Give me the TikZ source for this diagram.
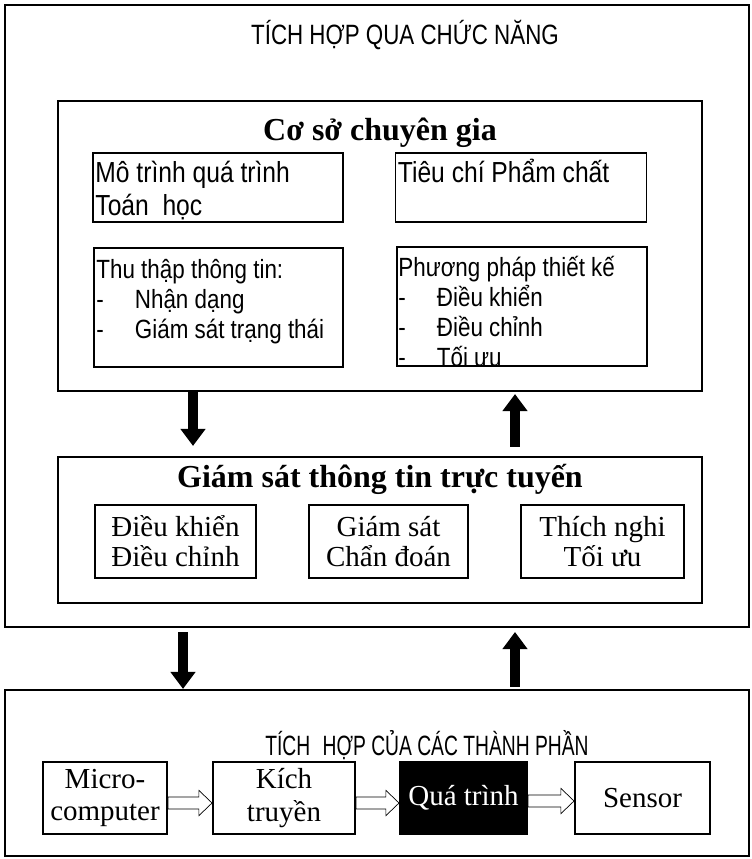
\documentclass[tikz,border=0pt]{standalone}
\usepackage{fontspec}
\setmainfont{Liberation Serif}
\newfontfamily\tieude[FakeStretch=0.8]{Liberation Sans}
\newfontfamily\tieudehep[FakeStretch=0.69]{Liberation Sans}
\newfontfamily\chunho[FakeStretch=0.85]{Liberation Sans}
\usetikzlibrary{arrows.meta,calc}

\tikzset{
    khung/.style={draw, line width=1.2pt, inner sep=0pt},
    o/.style={draw, line width=1.1pt, inner sep=0pt},
    hop/.style={draw, line width=1.1pt, inner sep=0pt, align=center,
        font=\fontsize{16.5}{17}\selectfont},
    dong/.style={anchor=north west, inner sep=0pt, align=left,
        font=\chunho\fontsize{15}{17}\selectfont},
    tenlon/.style={anchor=base, inner sep=0pt, font=\bfseries\fontsize{18.2}{20}\selectfont},
    tenhoa/.style={anchor=base, inner sep=0pt, font=\tieude\fontsize{15.9}{18}\selectfont},
    muiten/.style={line width=5.7pt, -{Triangle[length=9.7pt,width=13.7pt]}},
    rong/.style={draw, line width=1.5pt, to path={
        let \p1=(\tikztostart), \p2=(\tikztotarget) in
        (\x1,\y1+3.4pt) -- (\x2-7.5pt,\y1+3.4pt) -- (\x2-7.5pt,\y1+7.2pt) -- (\x2,\y1)
        -- (\x2-7.5pt,\y1-7.2pt) -- (\x2-7.5pt,\y1-3.4pt) -- (\x1,\y1-3.4pt) -- cycle}}
}
\newcommand{\gach}{\makebox[0.77cm][l]{-}}
\newcommand{\dau}{\rule{0pt}{1em}}

\begin{document}
\begin{tikzpicture}[x=0.02cm,y=-0.02cm]
    \useasboundingbox (0,0) rectangle (751,859);

    % khung chuc nang
    \node[khung, minimum width=14.88cm, minimum height=12.44cm] (chucnang) at (377,316) {};
    \node[tenhoa] (tdchucnang) at (405,44) {TÍCH HỢP QUA CHỨC NĂNG};

    % co so chuyen gia
    \node[khung, minimum width=12.88cm, minimum height=5.80cm] (chuyengia) at (380,246) {};
    \node[tenlon] (tdchuyengia) at (380,140) {Cơ sở chuyên gia};
    \node[o, minimum width=5.00cm, minimum height=1.38cm] (mohinh) at (218,187.5) {};
    \node[o, minimum width=5.02cm, minimum height=1.38cm] (tieuchi) at (521,187.5) {};
    \node[o, minimum width=4.98cm, minimum height=2.38cm] (thuthap) at (218.5,307.5) {};
    \node[o, minimum width=5.00cm, minimum height=2.38cm] (phuongphap) at (522,306.5) {};
    \node[dong, font=\chunho\fontsize{16.5}{18.8}\selectfont] (tmohinh) at ($(mohinh.north west)+(3,1)$)
        {\dau Mô trình quá trình\\Toán\ \ học};
    \node[dong, font=\chunho\fontsize{16.5}{18.8}\selectfont] (ttieuchi) at ($(tieuchi.north west)+(3,1)$)
        {\dau Tiêu chí Phẩm chất};
    \node[dong] (tthuthap) at ($(thuthap.north west)+(3,5)$)
        {\dau Thu thập thông tin:\\\gach Nhận dạng\\\gach Giám sát trạng thái};
    \node[dong] (tphuongphap) at ($(phuongphap.north west)+(2,4)$)
        {\dau Phương pháp thiết kế\\\gach Điều khiển\\\gach Điều chỉnh\\\gach Tối ưu};

    % giam sat truc tuyen
    \node[khung, minimum width=12.88cm, minimum height=2.92cm] (giamsat) at (380,530) {};
    \node[tenlon] (tdgiamsat) at (380,487) {Giám sát thông tin trực tuyến};
    \node[hop, minimum width=3.22cm, minimum height=1.46cm] (dieukhien) at (175.5,541.5) {Điều khiển\\Điều chỉnh};
    \node[hop, minimum width=3.18cm, minimum height=1.46cm] (chandoan) at (388.5,541.5) {Giám sát\\Chẩn đoán};
    \node[hop, minimum width=3.26cm, minimum height=1.46cm] (thichnghi) at (602.5,541.5) {Thích nghi\\Tối ưu};

    % tich hop thanh phan
    \node[khung, minimum width=14.88cm, minimum height=3.32cm] (thanhphan) at (377,773) {};
    \node[tenhoa, font=\tieudehep\fontsize{15.9}{18}\selectfont] (tdthanhphan) at (427,755)
        {TÍCH\hspace{0.25em} HỢP CỦA CÁC THÀNH PHẦN};
    \node[hop, font=\fontsize{16.5}{18.2}\selectfont, minimum width=2.48cm, minimum height=1.44cm] (micro) at (105,798) {Micro-\\computer};
    \node[hop, font=\fontsize{16.5}{18.8}\selectfont, minimum width=2.84cm, minimum height=1.44cm] (kich) at (284,798) {Kích\\truyền};
    \node[hop, fill=black, text=white, minimum width=2.54cm, minimum height=1.44cm] (quatrinh) at (463.5,798) {Quá trình};
    \node[hop, minimum width=2.70cm, minimum height=1.44cm] (sensor) at (642.5,798) {Sensor};

    % mui ten
    \coordinate (cot1) at (193,0);
    \coordinate (cot2) at (515,0);
    \coordinate (cot3) at (183,0);
    \draw[muiten, shorten >=0.2cm] (chuyengia.south -| cot1) -- (giamsat.north -| cot1);
    \draw[muiten, shorten <=0.18cm, shorten >=0.04cm] (giamsat.north -| cot2) -- (chuyengia.south -| cot2);
    \draw[muiten, shorten <=0.08cm] (chucnang.south -| cot3) -- (thanhphan.north -| cot3);
    \draw[muiten, shorten <=0.04cm, shorten >=0.08cm] (thanhphan.north -| cot2) -- (chucnang.south -| cot2);

    \draw ($(micro.east)+(0,5)$) to[rong] ($(kich.west)+(0,5)$);
    \draw ($(kich.east)+(0,5)$) to[rong] ($(quatrinh.west)+(0,5)$);
    \draw ($(quatrinh.east)+(0,3)$) to[rong] ($(sensor.west)+(0,3)$);
\end{tikzpicture}
\end{document}
